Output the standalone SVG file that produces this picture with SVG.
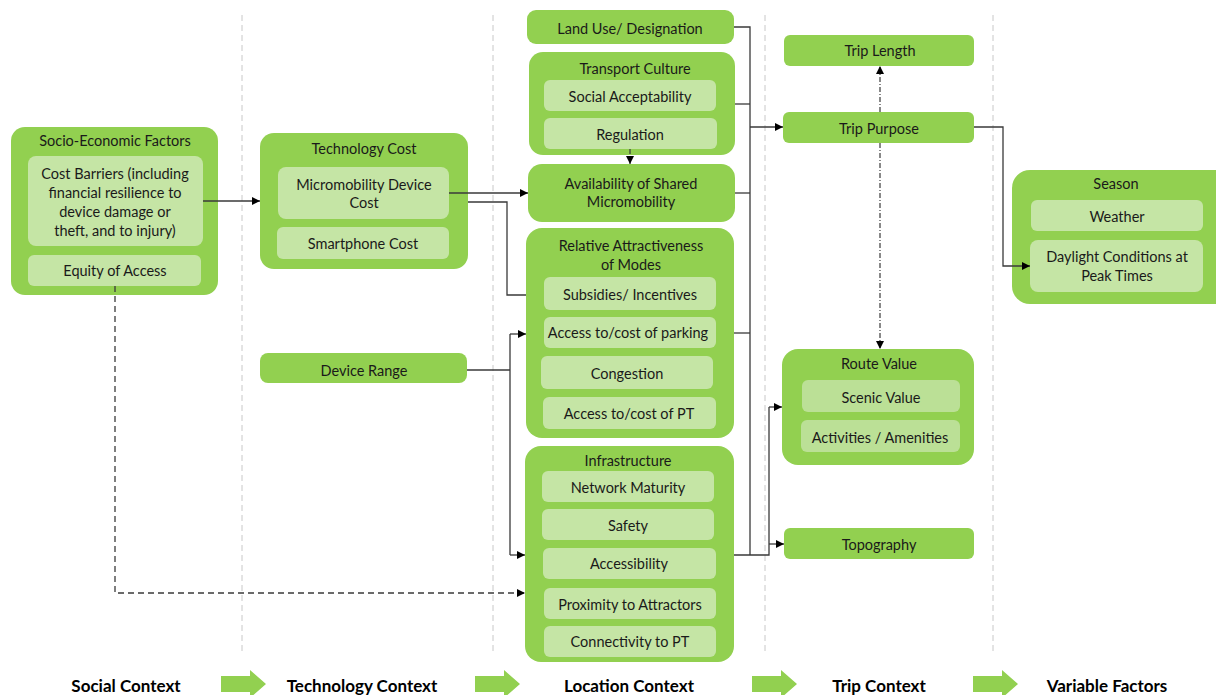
<svg xmlns="http://www.w3.org/2000/svg" width="1216" height="695" viewBox="0 0 1216 695">
<defs>
<style>
.o{fill:#92D050;}
.i{fill:#C5E5A5;}
.i2{fill:#BBE096;}
text{font-family:Lato,"Liberation Sans",sans-serif;font-size:14.5px;fill:#1a1a1a;text-anchor:middle;dominant-baseline:central;}
.b{font-weight:bold;font-size:17px;fill:#000;}
.sep{stroke:#c8c8c8;stroke-width:1;stroke-dasharray:6,4;fill:none;}
.c{stroke:#3a3a3a;stroke-width:1.3;fill:none;}
.ca{stroke:#3a3a3a;stroke-width:1.3;fill:none;marker-end:url(#ah);}
.d{stroke:#3a3a3a;stroke-width:1.3;fill:none;stroke-dasharray:6,4;marker-end:url(#ah);}
.dd{stroke:#3a3a3a;stroke-width:1.2;fill:none;stroke-dasharray:5,2,1,2;marker-end:url(#ah);}
.ga{fill:#92D050;}
</style>
<marker id="ah" viewBox="0 0 10 10" refX="10" refY="5" markerWidth="8" markerHeight="8" markerUnits="userSpaceOnUse" orient="auto">
<path d="M0,0 L10,5 L0,10 z" fill="#000"/>
</marker>
</defs>
<rect width="1216" height="695" fill="#fff"/>
<g id="separators">
<line class="sep" x1="242" y1="15" x2="242" y2="655"/>
<line class="sep" x1="493" y1="15" x2="493" y2="655"/>
<line class="sep" x1="765" y1="15" x2="765" y2="655"/>
<line class="sep" x1="993" y1="15" x2="993" y2="655"/>
</g>
<g id="socio">
<rect class="o" x="11" y="127" width="207" height="168" rx="14"/>
<text x="115" y="140">Socio-Economic Factors</text>
<rect class="i" x="28" y="156" width="175" height="90" rx="8"/>
<text x="115" y="173">Cost Barriers (including</text>
<text x="115" y="192">financial resilience to</text>
<text x="115" y="211">device damage or</text>
<text x="115" y="230">theft, and to injury)</text>
<rect class="i" x="28" y="255" width="173" height="31" rx="6"/>
<text x="115" y="270">Equity of Access</text>
</g>
<g id="techcost">
<rect class="o" x="260" y="133" width="208" height="136" rx="14"/>
<text x="364" y="148">Technology Cost</text>
<rect class="i" x="278" y="167" width="171" height="52" rx="8"/>
<text x="364" y="184">Micromobility Device</text>
<text x="364" y="202">Cost</text>
<rect class="i" x="277" y="227" width="172" height="32" rx="6"/>
<text x="363" y="243">Smartphone Cost</text>
</g>
<g id="devicerange">
<rect class="o" x="260" y="353" width="207" height="30" rx="8"/>
<text x="364" y="370">Device Range</text>
</g>
<g id="landuse">
<rect class="o" x="527" y="10" width="207" height="34" rx="9"/>
<text x="630" y="28">Land Use/ Designation</text>
</g>
<g id="transportculture">
<rect class="o" x="529" y="52" width="206" height="103" rx="14"/>
<text x="635" y="68">Transport Culture</text>
<rect class="i" x="544" y="80" width="172" height="31" rx="6"/>
<text x="630" y="96">Social Acceptability</text>
<rect class="i" x="544" y="118" width="173" height="31" rx="6"/>
<text x="630" y="134">Regulation</text>
</g>
<g id="availability">
<rect class="o" x="528" y="164" width="207" height="58" rx="14"/>
<text x="631" y="183">Availability of Shared</text>
<text x="631" y="201">Micromobility</text>
</g>
<g id="relattract">
<rect class="o" x="526" y="228" width="208" height="210" rx="16"/>
<text x="631" y="245">Relative Attractiveness</text>
<text x="631" y="264">of Modes</text>
<rect class="i" x="544" y="277" width="172" height="33" rx="6"/>
<text x="630" y="294">Subsidies/ Incentives</text>
<rect class="i" x="544" y="317" width="172" height="31" rx="6"/>
<text x="628" y="332">Access to/cost of parking</text>
<rect class="i" x="541" y="356" width="172" height="33" rx="6"/>
<text x="627" y="373">Congestion</text>
<rect class="i" x="543" y="397" width="173" height="32" rx="6"/>
<text x="629" y="413">Access to/cost of PT</text>
</g>
<g id="infrastructure">
<rect class="o" x="525" y="446" width="209" height="216" rx="16"/>
<text x="628" y="460">Infrastructure</text>
<rect class="i" x="542" y="471" width="172" height="31" rx="6"/>
<text x="628" y="487">Network Maturity</text>
<rect class="i" x="542" y="509" width="172" height="31" rx="6"/>
<text x="628" y="525">Safety</text>
<rect class="i" x="543" y="548" width="173" height="31" rx="6"/>
<text x="629" y="563">Accessibility</text>
<rect class="i" x="544" y="588" width="172" height="31" rx="6"/>
<text x="630" y="604">Proximity to Attractors</text>
<rect class="i" x="544" y="626" width="172" height="31" rx="6"/>
<text x="630" y="641">Connectivity to PT</text>
</g>
<g id="triplength">
<rect class="o" x="784" y="35" width="190" height="31" rx="6"/>
<text x="880" y="50">Trip Length</text>
</g>
<g id="trippurpose">
<rect class="o" x="783" y="112" width="191" height="31" rx="6"/>
<text x="879" y="128">Trip Purpose</text>
</g>
<g id="routevalue">
<rect class="o" x="782" y="349" width="192" height="116" rx="16"/>
<text x="879" y="363">Route Value</text>
<rect class="i2" x="802" y="380" width="158" height="32" rx="6"/>
<text x="881" y="397">Scenic Value</text>
<rect class="i2" x="801" y="420" width="159" height="32" rx="6"/>
<text x="880" y="437">Activities / Amenities</text>
</g>
<g id="topography">
<rect class="o" x="784" y="528" width="190" height="31" rx="6"/>
<text x="879" y="544">Topography</text>
</g>
<g id="season">
<rect class="o" x="1012" y="170" width="220" height="134" rx="18"/>
<text x="1116" y="183">Season</text>
<rect class="i" x="1031" y="200" width="172" height="31" rx="6"/>
<text x="1117" y="216">Weather</text>
<rect class="i" x="1030" y="240" width="173" height="52" rx="8"/>
<text x="1117" y="256">Daylight Conditions at</text>
<text x="1117" y="275">Peak Times</text>
</g>
<g id="connectors">
<path class="ca" d="M203,201 H260"/>
<path class="ca" d="M449,193 H528"/>
<path class="c" d="M468,202 H507 V295 H526"/>
<path class="c" d="M467,370 H510"/>
<path class="ca" d="M510,334 H526"/>
<path class="ca" d="M510,555 H525"/>
<path class="c" d="M510,334 V555"/>
<path class="d" d="M115,286 V593 H525"/>
<path class="dd" d="M630,149 V164"/>
<path class="c" d="M734,27 H750 V555"/>
<path class="c" d="M735,104 H750"/>
<path class="c" d="M735,193 H750"/>
<path class="c" d="M734,333 H750"/>
<path class="ca" d="M750,127 H783"/>
<path class="c" d="M734,555 H769 V407"/>
<path class="ca" d="M769,407 H782"/>
<path class="ca" d="M769,544 H784"/>
<path class="ca" d="M974,127 H1003 V266 H1030"/>
<path class="dd" d="M880,112 V66"/>
<path class="dd" d="M880,143 V349"/>
</g>
<g id="footer">
<text class="b" x="126" y="685">Social Context</text>
<text class="b" x="362" y="685">Technology Context</text>
<text class="b" x="629" y="685">Location Context</text>
<text class="b" x="879" y="685">Trip Context</text>
<text class="b" x="1107" y="685">Variable Factors</text>
<path class="ga" d="M221,676 H250 V670 L266,684 L250,698 V692 H221 z"/>
<path class="ga" d="M475,676 H504 V670 L520,684 L504,698 V692 H475 z"/>
<path class="ga" d="M752,676 H781 V670 L797,684 L781,698 V692 H752 z"/>
<path class="ga" d="M973,676 H1002 V670 L1018,684 L1002,698 V692 H973 z"/>
</g>
</svg>
